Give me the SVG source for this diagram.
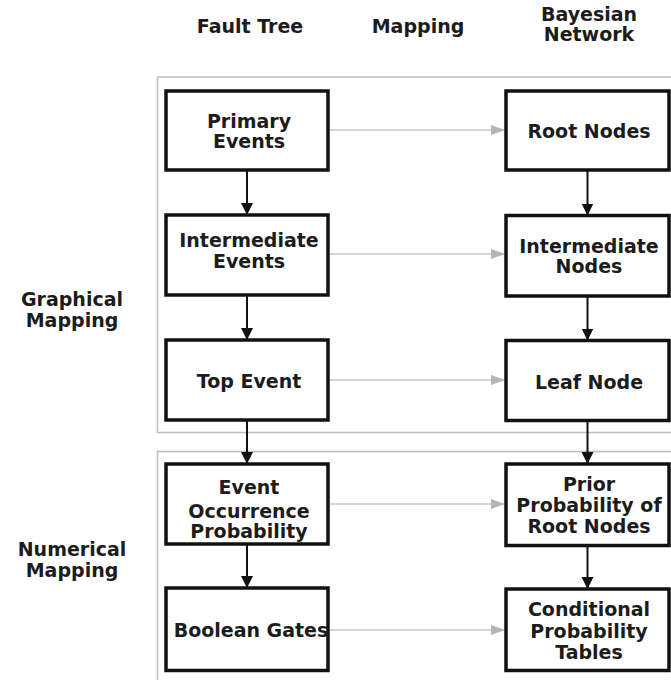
<svg xmlns="http://www.w3.org/2000/svg" width="671" height="680" viewBox="0 0 671 680">
  <style>
    .lbl { font-family: "DejaVu Sans", "Verdana", sans-serif; font-weight: bold; font-size: 19px; fill: #1c1c1c; text-anchor: middle; }
    .box { fill: #fff; stroke: #111; stroke-width: 3.5; }
    .frame { fill: none; stroke: #bdbdbd; stroke-width: 1.5; }
    .down { stroke: #111; stroke-width: 2; fill: none; marker-end: url(#headBlack); }
    .map { stroke: #c8c8c8; stroke-width: 1.5; fill: none; marker-end: url(#headGray); }
  </style>
  <defs>
    <marker id="headBlack" markerUnits="userSpaceOnUse" markerWidth="12" markerHeight="16" viewBox="0 0 12 16" refX="12" refY="8" orient="auto">
      <path d="M0,2 L12,8 L0,14 Z" fill="#111"/>
    </marker>
    <marker id="headGray" markerUnits="userSpaceOnUse" markerWidth="14" markerHeight="12" viewBox="0 0 14 12" refX="14" refY="6" orient="auto">
      <path d="M0,1 L14,6 L0,11 Z" fill="#b5b5b5"/>
    </marker>
  </defs>

  <rect width="671" height="680" fill="#fff"/>

  <!-- column headings -->
  <g id="headings">
    <text class="lbl" x="250" y="33">Fault Tree</text>
    <text class="lbl" x="418" y="33">Mapping</text>
    <text class="lbl" x="589" y="21">Bayesian</text>
    <text class="lbl" x="589" y="41">Network</text>
  </g>

  <!-- mapping groups -->
  <g id="graphical-mapping">
    <rect class="frame" x="157.5" y="77" width="530" height="355.5"/>
    <text class="lbl" x="72" y="306">Graphical</text>
    <text class="lbl" x="72" y="326.5">Mapping</text>
  </g>
  <g id="numerical-mapping">
    <rect class="frame" x="157.5" y="451.5" width="530" height="260"/>
    <text class="lbl" x="72" y="556">Numerical</text>
    <text class="lbl" x="72" y="577">Mapping</text>
  </g>

  <!-- connectors -->
  <g id="connectors">
    <line class="down" x1="247" y1="170" x2="247" y2="215"/>
    <line class="down" x1="247" y1="295" x2="247" y2="340"/>
    <line class="down" x1="247" y1="420" x2="247" y2="464"/>
    <line class="down" x1="247" y1="544" x2="247" y2="588"/>
    <line class="down" x1="587.5" y1="170" x2="587.5" y2="215.5"/>
    <line class="down" x1="587.5" y1="296" x2="587.5" y2="340.5"/>
    <line class="down" x1="587.5" y1="420.5" x2="587.5" y2="464"/>
    <line class="down" x1="587.5" y1="545.5" x2="587.5" y2="589"/>
    <line class="map" x1="329" y1="130" x2="505" y2="130"/>
    <line class="map" x1="329" y1="254" x2="505" y2="254"/>
    <line class="map" x1="329" y1="380" x2="505" y2="380"/>
    <line class="map" x1="329" y1="504" x2="505" y2="504"/>
    <line class="map" x1="329" y1="630" x2="505" y2="630"/>
  </g>

  <!-- fault tree column -->
  <g id="primary-events">
    <rect class="box" x="166" y="91" width="162" height="79"/>
    <text class="lbl" x="249" y="128">Primary</text>
    <text class="lbl" x="249" y="148">Events</text>
  </g>
  <g id="intermediate-events">
    <rect class="box" x="166" y="215" width="162" height="80"/>
    <text class="lbl" x="249" y="247">Intermediate</text>
    <text class="lbl" x="249" y="268">Events</text>
  </g>
  <g id="top-event">
    <rect class="box" x="166" y="340" width="162" height="80"/>
    <text class="lbl" x="249" y="388">Top Event</text>
  </g>
  <g id="event-occurrence-probability">
    <rect class="box" x="166" y="464" width="162" height="80"/>
    <text class="lbl" x="249" y="494">Event</text>
    <text class="lbl" x="249" y="517.5">Occurrence</text>
    <text class="lbl" x="249" y="538">Probability</text>
  </g>
  <g id="boolean-gates">
    <rect class="box" x="166" y="588" width="162" height="82.5"/>
    <text class="lbl" x="251" y="637">Boolean Gates</text>
  </g>

  <!-- bayesian network column -->
  <g id="root-nodes">
    <rect class="box" x="506" y="91" width="163" height="79"/>
    <text class="lbl" x="589" y="138">Root Nodes</text>
  </g>
  <g id="intermediate-nodes">
    <rect class="box" x="506" y="215.5" width="163" height="80.5"/>
    <text class="lbl" x="589" y="252.5">Intermediate</text>
    <text class="lbl" x="589" y="273">Nodes</text>
  </g>
  <g id="leaf-node">
    <rect class="box" x="506" y="340.5" width="163" height="80"/>
    <text class="lbl" x="589" y="389">Leaf Node</text>
  </g>
  <g id="prior-probability">
    <rect class="box" x="506" y="464" width="163" height="81.5"/>
    <text class="lbl" x="589" y="491">Prior</text>
    <text class="lbl" x="589" y="512">Probability of</text>
    <text class="lbl" x="589" y="533">Root Nodes</text>
  </g>
  <g id="conditional-probability-tables">
    <rect class="box" x="506" y="589" width="163" height="81.5"/>
    <text class="lbl" x="589" y="616">Conditional</text>
    <text class="lbl" x="589" y="637.5">Probability</text>
    <text class="lbl" x="589" y="658.5">Tables</text>
  </g>
</svg>
